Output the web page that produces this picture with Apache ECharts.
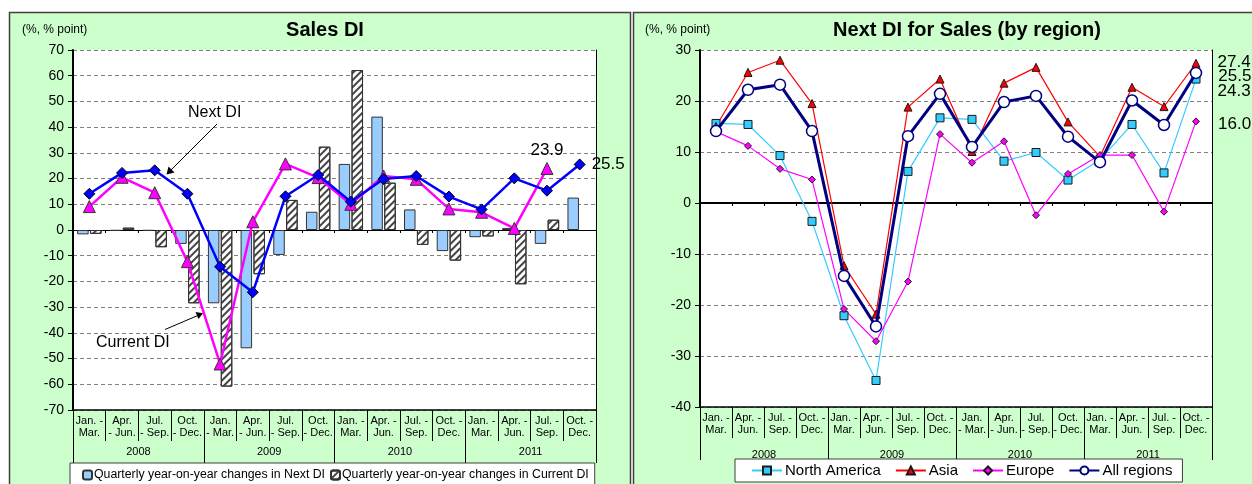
<!DOCTYPE html>
<html>
<head>
<meta charset="utf-8">
<script src="https://cdn.jsdelivr.net/npm/echarts@6/dist/echarts.min.js"></script>
<style>
html,body{margin:0;padding:0;background:#fff;}
#c{width:1252px;height:484px;}
</style>
</head>
<body>
<div id="c"></div>
<script>
// ---------- DATA ----------
const years = ['2008', '2009', '2010', '2011'];
const leftCats = ['Jan. -\nMar.', 'Apr.\n- Jun.', 'Jul.\n- Sep.', 'Oct.\n- Dec.',
  'Jan.\n- Mar.', 'Apr.\n- Jun.', 'Jul.\n- Sep.', 'Oct.\n- Dec.',
  'Jan. -\nMar.', 'Apr. -\nJun.', 'Jul. -\nSep.', 'Oct. -\nDec.',
  'Jan. -\nMar.', 'Apr. -\nJun.', 'Jul. -\nSep.', 'Oct. -\nDec.'];
const rightCats = ['Jan. -\nMar.', 'Apr. -\nJun.', 'Jul. -\nSep.', 'Oct. -\nDec.',
  'Jan. -\nMar.', 'Apr. -\nJun.', 'Jul. -\nSep.', 'Oct. -\nDec.',
  'Jan.\n- Mar.', 'Apr.\n- Jun.', 'Jul.\n- Sep.', 'Oct.\n- Dec.',
  'Jan. -\nMar.', 'Apr. -\nJun.', 'Jul. -\nSep.', 'Oct. -\nDec.'];

const nextDI = [14.1, 22.2, 23.2, 14.1, -14.3, -24.2, 13.1, 21.4, 11.0, 19.8, 21.0, 13.0, 8.0, 20.1, 15.3, 25.5];
const currentDI = [9.1, 20.5, 14.5, -12.3, -52.1, 3.2, 25.7, 20.4, 10.0, 21.0, 19.7, 8.2, 6.9, 0.6, 23.9, null];
const nextDIChange = [-1.7, -0.3, -0.3, -5.4, -28.5, -46.0, -9.7, 7.1, 25.7, 44.1, 8.0, -8.2, -2.8, 0.8, -5.4, 12.6];
const currentDIChange = [-1.5, 0.9, -6.7, -28.5, -60.9, -17.2, 11.7, 32.4, 62.2, 18.4, -5.8, -11.9, -2.5, -21.1, 4.0, null];

const northAmerica = [15.6, 15.4, 9.3, -3.6, -22.1, -34.8, 6.2, 16.7, 16.4, 8.2, 9.9, 4.5, 8.5, 15.4, 5.9, 24.3];
const asia = [15.0, 25.6, 28.0, 19.5, -12.3, -21.8, 18.8, 24.3, 10.1, 23.5, 26.6, 15.9, 9.1, 22.7, 18.9, 27.4];
const europe = [14.0, 11.2, 6.7, 4.6, -20.8, -27.1, -15.4, 13.5, 7.9, 12.1, -2.4, 5.7, 9.4, 9.4, -1.7, 16.0];
const allRegions = [14.1, 22.2, 23.2, 14.1, -14.3, -24.2, 13.1, 21.4, 11.0, 19.8, 21.0, 13.0, 8.0, 20.1, 15.3, 25.5];

// ---------- CHART ----------
const FONT = '"Liberation Sans", Arial, sans-serif';
const chart = echarts.init(document.getElementById('c'), null, {renderer: 'canvas'});

function labelLast(arr, labelOpt) {
  let last = -1;
  arr.forEach((v, i) => { if (v !== null) last = i; });
  return arr.map((v, i) => i === last ? {value: v, label: Object.assign({
    show: true, color: '#000', fontSize: 17, fontFamily: FONT,
    formatter: p => Number(p.value).toFixed(1)
  }, labelOpt)} : v);
}

const splitLine = {show: true, lineStyle: {color: '#808080', type: [4, 3], width: 1}};

function catAxes(gridIndex, cats, tickLen, yearTickLen, yearMargin, zeroWidth) {
  return [
    {
      type: 'category', gridIndex: gridIndex, data: cats, position: 'bottom',
      axisLine: {onZero: false, lineStyle: {color: '#000', width: 1.5}},
      axisTick: {show: true, interval: 0, length: tickLen, lineStyle: {color: '#000'}},
      axisLabel: {interval: 0, fontSize: 11, lineHeight: 12, color: '#000', margin: 5, fontFamily: FONT}
    },
    {
      type: 'category', gridIndex: gridIndex, data: years, position: 'bottom',
      axisLine: {show: false, onZero: false},
      axisTick: {show: true, interval: 0, length: yearTickLen, lineStyle: {color: '#000'}},
      axisLabel: {interval: 0, fontSize: 11, color: '#000', margin: yearMargin, fontFamily: FONT}
    },
    {
      type: 'category', gridIndex: gridIndex, data: cats, position: 'bottom',
      axisLine: {onZero: true, lineStyle: {color: '#000', width: zeroWidth}},
      axisTick: {show: true, interval: 0, length: 3, lineStyle: {color: '#000'}},
      axisLabel: {show: false}
    }
  ];
}

const option = {
  animation: false,
  backgroundColor: '#fff',
  textStyle: {fontFamily: FONT},
  graphic: [
    {type: 'rect', shape: {x: 9.5, y: 12.5, width: 621, height: 480}, style: {fill: '#ccffcc', stroke: '#404040', lineWidth: 1.5}, z: -10},
    {type: 'rect', shape: {x: 633.5, y: 12.5, width: 640, height: 480}, style: {fill: '#ccffcc', stroke: '#404040', lineWidth: 1.5}, z: -10},
    {type: 'text', x: 22, y: 24, style: {text: '(%, % point)', fontSize: 12, fill: '#000', fontFamily: FONT}},
    {type: 'text', x: 325, y: 30, style: {text: 'Sales DI', fontSize: 20, fontWeight: 'bold', fill: '#000', fontFamily: FONT, textAlign: 'center', textVerticalAlign: 'middle'}},
    {type: 'text', x: 645, y: 24, style: {text: '(%, % point)', fontSize: 12, fill: '#000', fontFamily: FONT}},
    {type: 'text', x: 967, y: 30, style: {text: 'Next DI for Sales (by region)', fontSize: 20, fontWeight: 'bold', fill: '#000', fontFamily: FONT, textAlign: 'center', textVerticalAlign: 'middle'}},
    // annotations
    {type: 'text', x: 188, y: 113, z: 100, style: {text: 'Next DI', fontSize: 16, fill: '#000', fontFamily: FONT, textVerticalAlign: 'middle'}},
    {type: 'line', z: 100, shape: {x1: 217, y1: 124, x2: 170, y2: 171}, style: {stroke: '#000', lineWidth: 1}},
    {type: 'polygon', z: 100, shape: {points: [[166.5, 174.5], [168.5, 166.5], [174.5, 172.5]]}, style: {fill: '#000'}},
    {type: 'text', x: 96, y: 343, z: 100, style: {text: 'Current DI', fontSize: 16, fill: '#000', fontFamily: FONT, textVerticalAlign: 'middle'}},
    {type: 'line', z: 100, shape: {x1: 165, y1: 329.5, x2: 199, y2: 315}, style: {stroke: '#000', lineWidth: 1}},
    {type: 'polygon', z: 100, shape: {points: [[203, 313.3], [195.5, 312], [198.5, 319]]}, style: {fill: '#000'}}
  ],
  grid: [
    {left: 73, top: 50, width: 523, height: 360, show: true, backgroundColor: '#fff', borderWidth: 0},
    {left: 700, top: 50, width: 512, height: 357, show: true, backgroundColor: '#fff', borderWidth: 0}
  ],
  legend: [
    {
      left: 70, top: 463, padding: [6, 6, 10, 12], itemGap: 5, itemWidth: 9, itemHeight: 9,
      backgroundColor: '#fff', borderColor: '#404040', borderWidth: 1,
      textStyle: {fontSize: 12.3, color: '#000', fontFamily: FONT, padding: [0, 0, 0, -3]},
      data: ['Quarterly year-on-year changes in Next DI', 'Quarterly year-on-year changes in Current DI']
    },
    {
      left: 735, top: 459, padding: [4, 10, 4, 16], itemGap: 14, itemWidth: 30, itemHeight: 10,
      backgroundColor: '#fff', borderColor: '#404040', borderWidth: 1,
      textStyle: {fontSize: 15, color: '#000', fontFamily: FONT, padding: [0, 0, 0, -2]},
      data: ['North America', 'Asia', 'Europe', 'All regions']
    }
  ],
  xAxis: [].concat(
    catAxes(0, leftCats, 31, 53, 36, 1),
    catAxes(1, rightCats, 31, 53, 42, 2)
  ),
  yAxis: [
    {
      type: 'value', gridIndex: 0, min: -70, max: 70, interval: 10,
      axisLine: {show: true, lineStyle: {color: '#000', width: 2}},
      axisTick: {show: true, length: 5, lineStyle: {color: '#000'}},
      axisLabel: {fontSize: 14, color: '#000', margin: 9, fontFamily: FONT},
      splitLine: splitLine
    },
    {
      type: 'value', gridIndex: 0, min: -70, max: 70, interval: 10, position: 'right',
      axisLine: {show: true, lineStyle: {color: '#000', width: 1}},
      axisTick: {show: false}, axisLabel: {show: false}, splitLine: {show: false}
    },
    {
      type: 'value', gridIndex: 1, min: -40, max: 30, interval: 10,
      axisLine: {show: true, lineStyle: {color: '#000', width: 2}},
      axisTick: {show: true, length: 5, lineStyle: {color: '#000'}},
      axisLabel: {fontSize: 14, color: '#000', margin: 9, fontFamily: FONT},
      splitLine: splitLine
    },
    {
      type: 'value', gridIndex: 1, min: -40, max: 30, interval: 10, position: 'right',
      axisLine: {show: true, lineStyle: {color: '#000', width: 1}},
      axisTick: {show: false}, axisLabel: {show: false}, splitLine: {show: false}
    }
  ],
  series: [
    {
      name: 'Quarterly year-on-year changes in Next DI', type: 'bar', xAxisIndex: 0, yAxisIndex: 0,
      data: nextDIChange, barWidth: 11.5, barGap: '12%',
      itemStyle: {color: '#99ccff', borderColor: '#333', borderWidth: 1}
    },
    {
      name: 'Quarterly year-on-year changes in Current DI', type: 'bar', xAxisIndex: 0, yAxisIndex: 0,
      data: currentDIChange, barWidth: 11.5, barGap: '12%',
      itemStyle: {
        color: '#ffffff', borderColor: '#333', borderWidth: 1,
        decal: {symbol: 'rect', symbolSize: 1, color: '#444', dashArrayX: [1, 0], dashArrayY: [1.5, 2.5], rotation: -Math.PI / 4}
      }
    },
    {
      name: 'Current DI', type: 'line', xAxisIndex: 0, yAxisIndex: 0,
      data: labelLast(currentDI, {position: 'top', distance: 3}),
      symbol: 'triangle', symbolSize: 12, showAllSymbol: true,
      lineStyle: {color: '#ff00ff', width: 2.5},
      itemStyle: {color: '#ff00ff', borderColor: '#333', borderWidth: 1}, z: 3
    },
    {
      name: 'Next DI', type: 'line', xAxisIndex: 0, yAxisIndex: 0,
      data: labelLast(nextDI, {position: 'right', distance: 6}),
      symbol: 'diamond', symbolSize: 11, showAllSymbol: true,
      lineStyle: {color: '#0000ff', width: 2.5},
      itemStyle: {color: '#0000ff', borderColor: '#000', borderWidth: 1}, z: 4
    },
    {
      name: 'North America', type: 'line', xAxisIndex: 3, yAxisIndex: 2,
      data: labelLast(northAmerica, {position: 'right', distance: 17, offset: [0, 12]}),
      symbol: 'rect', symbolSize: 8,
      lineStyle: {color: '#33ccff', width: 1.2},
      itemStyle: {color: '#33ccff', borderColor: '#1a1a1a', borderWidth: 1}
    },
    {
      name: 'Asia', type: 'line', xAxisIndex: 3, yAxisIndex: 2,
      data: labelLast(asia, {position: 'right', distance: 17, offset: [0, -1]}),
      symbol: 'triangle', symbolSize: 8,
      lineStyle: {color: '#ff0000', width: 1.2},
      itemStyle: {color: '#ff0000', borderColor: '#1a1a1a', borderWidth: 1}
    },
    {
      name: 'Europe', type: 'line', xAxisIndex: 3, yAxisIndex: 2,
      data: labelLast(europe, {position: 'right', distance: 18, offset: [0, 3]}),
      symbol: 'diamond', symbolSize: 7,
      lineStyle: {color: '#ff00ff', width: 1.2},
      itemStyle: {color: '#ff00ff', borderColor: '#1a1a1a', borderWidth: 1}
    },
    {
      name: 'All regions', type: 'line', xAxisIndex: 3, yAxisIndex: 2,
      data: labelLast(allRegions, {position: 'right', distance: 16, offset: [0, 3]}),
      symbol: 'circle', symbolSize: 11,
      lineStyle: {color: '#000080', width: 3},
      itemStyle: {color: '#ffffff', borderColor: '#000080', borderWidth: 1.5}, z: 5
    }
  ]
};
chart.setOption(option);
</script>
</body>
</html>
